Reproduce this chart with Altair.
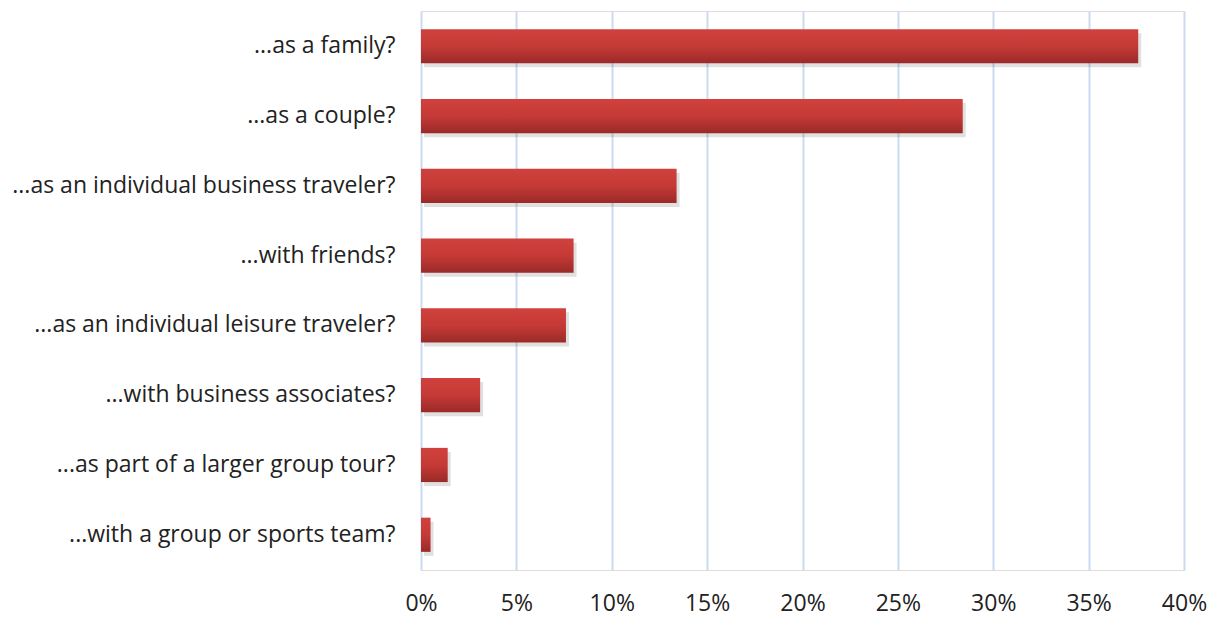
import altair as alt
import pandas as pd

categories = [
    "...as a family?",
    "...as a couple?",
    "...as an individual business traveler?",
    "...with friends?",
    "...as an individual leisure traveler?",
    "...with business associates?",
    "...as part of a larger group tour?",
    "...with a group or sports team?",
]
values = [0.376, 0.284, 0.134, 0.080, 0.076, 0.031, 0.014, 0.005]

df = pd.DataFrame({"cat": categories, "val": values})

FONT = "Open Sans"
FS = 23

x = alt.X("val:Q", scale=alt.Scale(domain=[0, 0.4], nice=False),
          axis=alt.Axis(format=".0%", values=[0, .05, .1, .15, .2, .25, .3, .35, .4],
                        title=None, grid=True, gridColor="#cadcf0", gridWidth=2,
                        domain=False, ticks=False, labelFontSize=FS, labelPadding=22,
                        labelFlush=False, labelColor="#222222", labelFont=FONT))
y = alt.Y("cat:N", sort=categories,
          scale=alt.Scale(paddingInner=0.51, paddingOuter=0.26),
          axis=alt.Axis(title=None, domain=False, ticks=False, grid=False,
                        labelFontSize=FS, labelPadding=26, labelColor="#222222",
                        labelFont=FONT, labelLimit=500))

shadow = alt.Chart(df).mark_bar(color="#000000", opacity=0.12, xOffset=3, yOffset=4).encode(x=x, y=y)

bars = alt.Chart(df).mark_bar(
    color=alt.Gradient(
        gradient="linear",
        stops=[alt.GradientStop(color="#d0413d", offset=0),
               alt.GradientStop(color="#c53a36", offset=0.5),
               alt.GradientStop(color="#9a2a28", offset=1)],
        x1=0, x2=0, y1=0, y2=1,
    )
).encode(x=x, y=y)

chart = alt.layer(shadow, bars).properties(
    width=763, height=559,
    padding={"left": 413, "top": 3, "right": 26, "bottom": 48},
    autosize=alt.AutoSizeParams(type="none"),
).configure_view(stroke=None).configure(background="white")

chart.save("out.html", embed_options={"renderer": "svg", "actions": False})
